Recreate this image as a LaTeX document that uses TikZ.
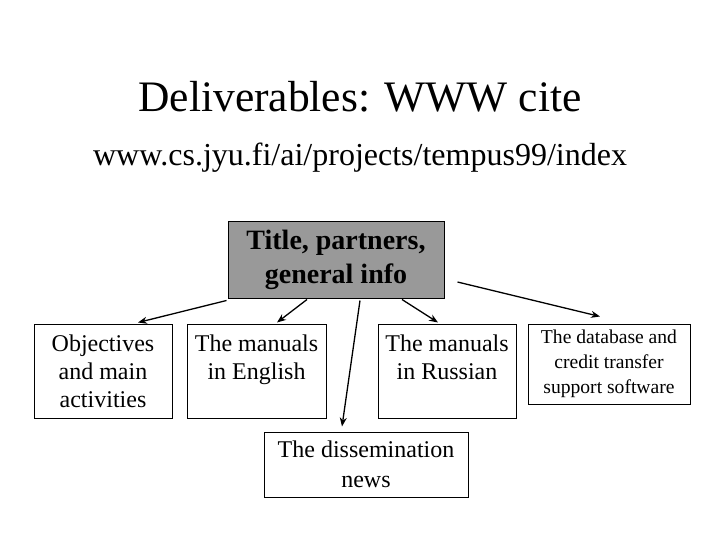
\documentclass[tikz,border=0pt]{standalone}
\usepackage{fontspec}
\setmainfont{Liberation Serif}
\usetikzlibrary{arrows.meta}
\definecolor{titlegray}{RGB}{153,153,153}
\tikzset{
	box/.style={draw, line width=1pt, inner sep=0pt, align=center, font=\fontsize{24}{28}\selectfont},
	arr/.style={line width=1.3pt, -{Stealth[length=9pt,width=7pt]}}
}
\begin{document}
\begin{tikzpicture}[x=1pt,y=-1pt]

		\useasboundingbox[fill=white] (0,0) rectangle (720,540);

		\node (head) at (360,97) {\fontsize{43.5}{50}\selectfont Deliverables: WWW cite};
		\node (url) at (360,158) {\fontsize{32}{38}\selectfont www.cs.jyu.fi/ai/projects/tempus99/index};

		\node[box, fill=titlegray, minimum width=216pt, minimum height=76pt, font=\fontsize{28}{34}\selectfont\bfseries] (title) at (336,260) {Title, partners,\\general info};
		\node[box, minimum width=138pt, minimum height=94pt] (obj) at (103,371) {Objectives\\and main\\activities};
		\node[box, minimum width=139pt, minimum height=94pt] (eng) at (256.5,371) {The manuals\\in English\\\vphantom{a}};
		\node[box, minimum width=138pt, minimum height=94pt] (rus) at (447,371) {The manuals\\in Russian\\\vphantom{a}};
		\node[box, minimum width=162pt, minimum height=80pt, font=\fontsize{19.6}{25}\selectfont] (db) at (609,364) {The database and\\credit transfer\\support software};
		\node[box, minimum width=204pt, minimum height=65pt, font=\fontsize{24}{30}\selectfont] (diss) at (366,464.5) {The dissemination\\news};

		\draw[arr] ([xshift=-1pt,yshift=-2pt]title.south west) -- ([xshift=35pt,yshift=1pt]obj.north);

		\draw[arr] ([xshift=-29pt,yshift=-1pt]title.south) -- ([xshift=20.5pt,yshift=1pt]eng.north);

		\draw[arr] ([xshift=24pt,yshift=-2pt]title.south) -- ([xshift=-24pt,yshift=5pt]diss.north);

		\draw[arr] ([xshift=66pt,yshift=-1pt]title.south) -- ([xshift=-9pt,yshift=1pt]rus.north);

		\draw[arr] ([xshift=13pt,yshift=-22pt]title.east) -- ([xshift=-9pt,yshift=7pt]db.north);

	\end{tikzpicture}
\end{document}
